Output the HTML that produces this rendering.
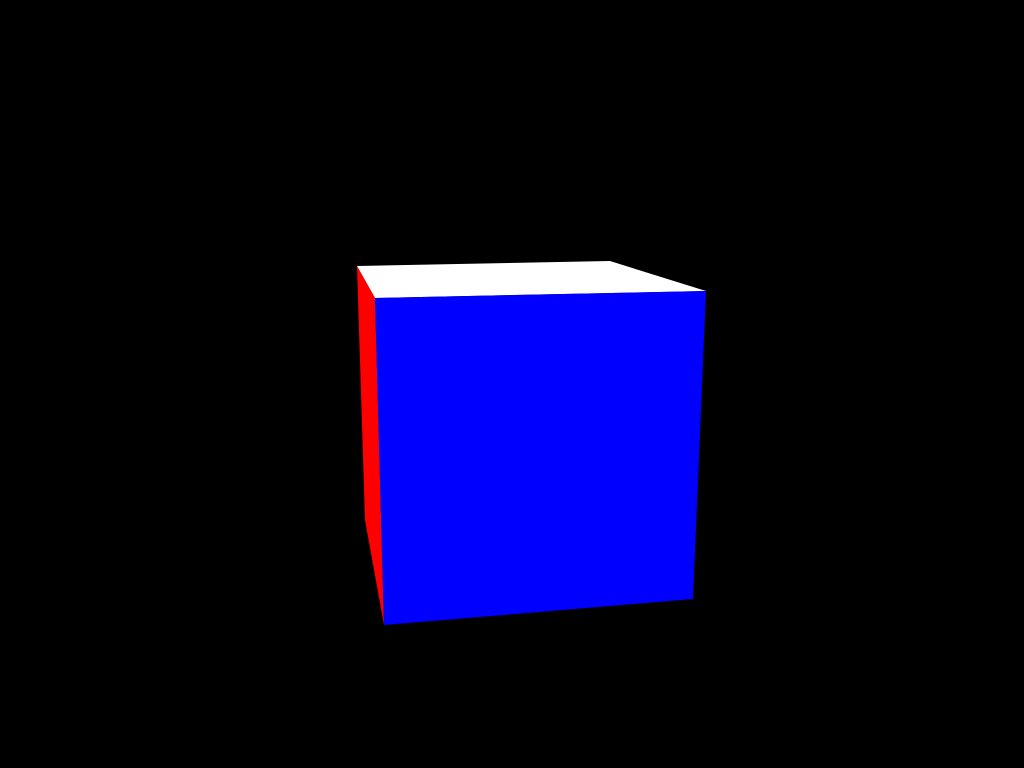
<!DOCTYPE html>
<html><head><meta charset="utf-8"><style>html,body{margin:0;padding:0;background:#000;width:1024px;height:768px;overflow:hidden}</style></head>
<body>
<svg width="1024" height="768" viewBox="0 0 1024 768" style="display:block">
<rect x="0" y="0" width="1024" height="768" fill="#000"/>
<polygon points="357,266 610,261 706,291 375,298" fill="#fff"/>
<polygon points="357,266 375,298 384,625 365,520" fill="#f00"/>
<polygon points="375,298 706,291 693,599 384,625" fill="#00f"/>
</svg>
</body></html>
